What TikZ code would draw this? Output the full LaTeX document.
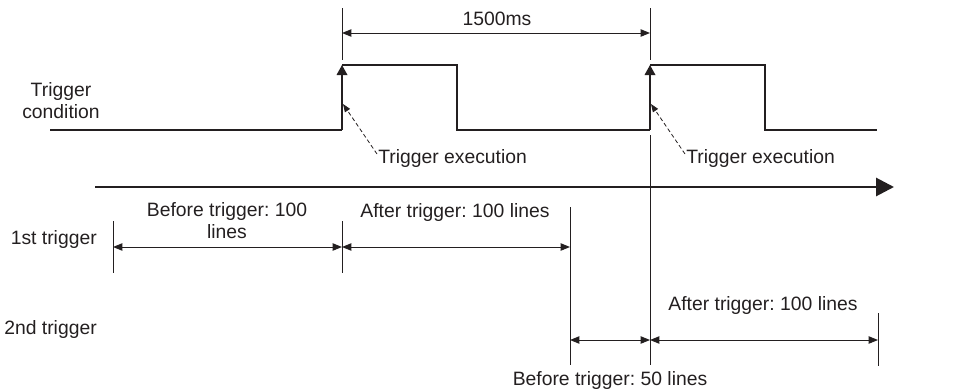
\documentclass[tikz,border=0pt]{standalone}
\usepackage{fontspec}
\setmainfont{Liberation Sans}
\usetikzlibrary{arrows.meta,positioning,calc}
\definecolor{ink}{HTML}{231F20}
\frenchspacing

\begin{document}
\begin{tikzpicture}[
  x=0.75pt, y=-0.75pt,
  lbl/.style={font=\fontsize{14.5}{16.5}\selectfont, text=ink, inner sep=0pt, align=center},
  signal/.style={draw=ink, line width=0.95pt},
  tick/.style={draw=ink, line width=0.75pt},
  edge/.style={signal, -{Triangle[length=7.5pt,width=8pt]}},
  dim/.style={draw=ink, line width=0.75pt,
              {Triangle[length=7pt,width=5.5pt]}-{Triangle[length=7pt,width=5.5pt]}},
  hint/.style={draw=ink, line width=0.6pt, dash pattern=on 3pt off 2pt,
               -{Triangle[length=6pt,width=4.5pt]}},
  axis/.style={draw=ink, line width=2.2pt, -{Triangle[length=13.5pt,width=13.5pt]}}
]
\useasboundingbox (0,0) rectangle (960,389);

% Signal points
\coordinate (s0)  at (50,130);
\coordinate (r1)  at (342,130);
\coordinate (r1t) at (342,65);
\coordinate (f1)  at (457,65);
\coordinate (f1b) at (457,130);
\coordinate (r2)  at (650,130);
\coordinate (r2t) at (650,65);
\coordinate (f2)  at (765,65);
\coordinate (f2b) at (765,130);
\coordinate (s9)  at (877,130);

% Trigger condition
\node[lbl] (cond) at (61,101) {Trigger\\condition};
\draw[signal] (s0) -- (r1) (r1t) -- (f1) -- (f1b) -- (r2) (r2t) -- (f2) -- (f2b) -- (s9);
\draw[edge] (r1) -- (r1t);
\draw[edge] (r2) -- (r2t);

% 1500ms interval
\coordinate (m1a) at (342,8);  \coordinate (m1b) at (342,60);
\coordinate (m2a) at (650,8);  \coordinate (m2b) at (650,60);
\draw[tick] (m1a) -- (m1b);
\draw[tick] (m2a) -- (m2b);
\coordinate (d1) at (342,33);  \coordinate (d2) at (650,33);
\draw[dim] (d1) -- (d2);
\node[lbl, anchor=base] (period) at (497,26) {1500ms};

% Trigger execution
\node[lbl, anchor=base west] (exec1) at (378,163) {Trigger execution};
\node[lbl, anchor=base west] (exec2) at (686,163) {Trigger execution};
\coordinate (e1) at (343,104);
\coordinate (e2) at (651,104);
\draw[hint] (exec1.west) ++(-1,-4) coordinate (h1) -- (e1);
\draw[hint] (exec2.west) ++(-1,-4) coordinate (h2) -- (e2);

% Time axis
\coordinate (ax0) at (95,187);
\coordinate (ax1) at (894,187);
\draw[axis] (ax0) -- (ax1);

% Long guide lines
\coordinate (g1a) at (650,135); \coordinate (g1b) at (650,365);
\coordinate (g2a) at (570,207); \coordinate (g2b) at (570,365);
\draw[tick] (g1a) -- (g1b);
\draw[tick] (g2a) -- (g2b);

% 1st trigger
\node[lbl, anchor=base east] (first) at (97,244) {1st trigger};
\coordinate (a1) at (113,221); \coordinate (a2) at (113,273);
\coordinate (b1) at (342,221); \coordinate (b2) at (342,273);
\draw[tick] (a1) -- (a2);
\draw[tick] (b1) -- (b2);
\coordinate (p1) at (113,247); \coordinate (p2) at (342,247); \coordinate (p3) at (570,247);
\draw[dim] (p1) -- (p2);
\draw[dim] (p2) -- (p3);
\node[lbl] (pre1) at (227,221) {Before trigger: 100\\lines};
\node[lbl, anchor=base] (post1) at (455,217) {After trigger: 100 lines};

% 2nd trigger
\node[lbl, anchor=base east] (second) at (97,334) {2nd trigger};
\coordinate (c1) at (878,313); \coordinate (c2) at (878,366);
\draw[tick] (c1) -- (c2);
\coordinate (q1) at (570,340); \coordinate (q2) at (650,340); \coordinate (q3) at (878,340);
\draw[dim] (q1) -- (q2);
\draw[dim] (q2) -- (q3);
\node[lbl, anchor=base] (post2) at (763,310) {After trigger: 100 lines};
\node[lbl, anchor=base] (pre2) at (610,385) {Before trigger: 50 lines};
\end{tikzpicture}
\end{document}
